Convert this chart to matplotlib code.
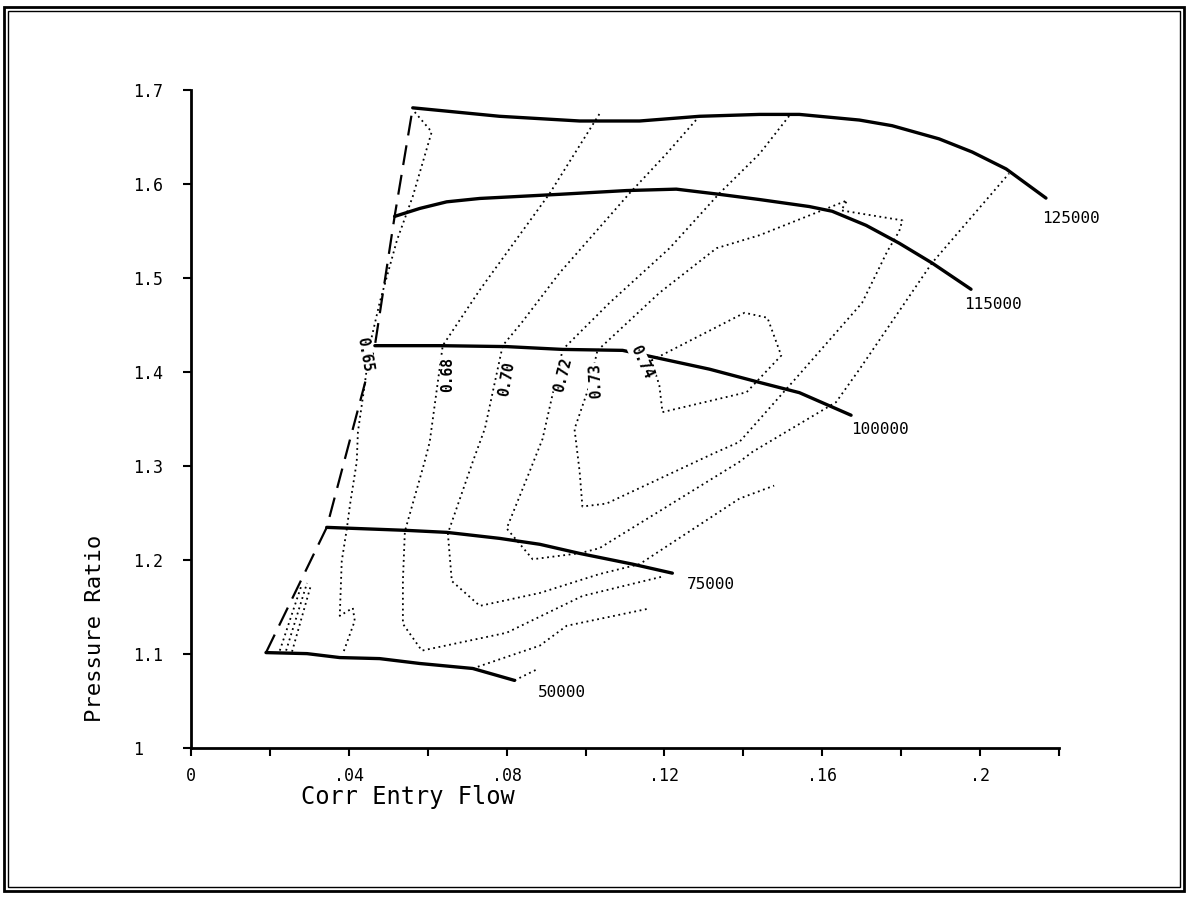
import matplotlib.pyplot as plt
from matplotlib.patches import Rectangle

plt.rcParams['font.family'] = ['DejaVu Sans Mono']

# constant speed lines (corr speed, rpm)
flow_125k = [0.0562, 0.0782, 0.0985, 0.1137, 0.1289, 0.1441, 0.1542, 0.1694, 0.1777, 0.1896, 0.1980, 0.2066, 0.2167]
pr_125k = [1.681, 1.672, 1.667, 1.667, 1.672, 1.674, 1.674, 1.668, 1.662, 1.648, 1.634, 1.616, 1.585]
flow_115k = [0.0516, 0.0580, 0.0648, 0.0732, 0.0934, 0.1104, 0.1230, 0.1339, 0.1440, 0.1567, 0.1625, 0.1711, 0.1795, 0.1878, 0.1977]
pr_115k = [1.5655, 1.574, 1.581, 1.5846, 1.589, 1.593, 1.5945, 1.589, 1.5835, 1.576, 1.571, 1.556, 1.537, 1.516, 1.488]
flow_100k = [0.0466, 0.0630, 0.0800, 0.0942, 0.1094, 0.1154, 0.1314, 0.1440, 0.1542, 0.1673]
pr_100k = [1.428, 1.428, 1.427, 1.424, 1.423, 1.4175, 1.403, 1.389, 1.378, 1.354]
flow_75k = [0.0344, 0.0547, 0.0648, 0.0782, 0.0884, 0.0985, 0.1119, 0.1220]
pr_75k = [1.2347, 1.2315, 1.2294, 1.223, 1.2167, 1.207, 1.1956, 1.186]
flow_50k = [0.0190, 0.0294, 0.0377, 0.0478, 0.0580, 0.0714, 0.0820]
pr_50k = [1.1015, 1.1004, 1.0962, 1.0951, 1.0899, 1.0846, 1.0719]

speed_names = ["125000", "115000", "100000", "75000", "50000"]
speed_lbl_x = [0.2157, 0.1959, 0.1673, 0.1258, 0.0878]
speed_lbl_y = [1.5634, 1.4715, 1.3383, 1.1744, 1.0592]

# surge line
surge_flow = [0.0190, 0.0344, 0.0466, 0.0516, 0.0562]
surge_pr = [1.1015, 1.2347, 1.428, 1.5655, 1.681]

# efficiency contours
eff_065_x = [0.0567, 0.0610, 0.0562, 0.0522, 0.0478, 0.0453, 0.0441, 0.0423, 0.0420, 0.0403, 0.0395, 0.0382, 0.0377, 0.0410, 0.0415, 0.0385]
eff_065_y = [1.6765, 1.6554, 1.5867, 1.5402, 1.4736, 1.4281, 1.389, 1.3362, 1.3044, 1.259, 1.2336, 1.1987, 1.1406, 1.149, 1.1353, 1.1004]
eff_068_x = [0.1035, 0.0909, 0.0732, 0.0638, 0.0605, 0.0592, 0.0542, 0.0537, 0.0537, 0.0585, 0.0800, 0.0992, 0.1200]
eff_068_y = [1.6744, 1.5899, 1.4873, 1.4281, 1.3256, 1.3044, 1.2304, 1.1776, 1.1321, 1.1036, 1.1226, 1.1617, 1.1829]
eff_070_x = [0.1289, 0.1205, 0.1111, 0.0934, 0.0838, 0.0790, 0.0745, 0.0714, 0.0651, 0.0661, 0.0732, 0.0884, 0.1035, 0.1137, 0.1390, 0.1478]
eff_070_y = [1.6723, 1.6321, 1.5899, 1.5053, 1.4524, 1.4281, 1.3400, 1.3044, 1.2283, 1.1776, 1.1512, 1.1649, 1.1850, 1.1956, 1.2653, 1.2791]
eff_072_x = [0.1516, 0.1441, 0.1339, 0.1213, 0.1061, 0.0942, 0.0891, 0.0858, 0.0800, 0.0866, 0.0985, 0.1035, 0.1390, 0.1423, 0.1635, 0.1694, 0.1878, 0.2073]
eff_072_y = [1.6723, 1.6321, 1.5899, 1.5317, 1.4736, 1.4239, 1.3288, 1.2939, 1.2336, 1.2008, 1.2072, 1.2125, 1.3044, 1.3150, 1.3679, 1.4027, 1.5159, 1.6110]
eff_073_x = [0.1030, 0.1187, 0.1332, 0.1441, 0.1663, 0.1648, 0.1803, 0.1795, 0.1765, 0.1701, 0.1542, 0.1390, 0.1322, 0.1053, 0.0992, 0.0985, 0.0972, 0.1010, 0.1030]
eff_073_y = [1.4228, 1.4841, 1.5317, 1.5455, 1.5825, 1.5719, 1.5613, 1.5497, 1.5285, 1.4736, 1.3975, 1.3256, 1.3129, 1.2600, 1.2569, 1.2939, 1.3393, 1.3858, 1.4228]
eff_074_x = [0.1167, 0.1403, 0.1461, 0.1496, 0.1408, 0.1195, 0.1187, 0.1167]
eff_074_y = [1.4123, 1.4630, 1.4577, 1.4175, 1.3784, 1.3573, 1.3858, 1.4123]
eff_low_a_x = [0.0714, 0.0884, 0.0952, 0.1157]
eff_low_a_y = [1.0846, 1.1089, 1.1300, 1.1480]
eff_low_b_x = [0.0820, 0.0876]
eff_low_b_y = [1.0719, 1.0835]
eff_s1_x = [0.0225, 0.0281]
eff_s1_y = [1.1036, 1.1744]
eff_s2_x = [0.0241, 0.0294]
eff_s2_y = [1.1036, 1.1755]
eff_s3_x = [0.0256, 0.0304]
eff_s3_y = [1.1025, 1.1734]

eff_names = ["0.65", "0.68", "0.70", "0.72", "0.73", "0.74"]
eff_lbl_x = [0.0441, 0.0651, 0.0800, 0.0942, 0.1025, 0.1142]
eff_lbl_y = [1.4186, 1.3975, 1.3922, 1.3964, 1.3910, 1.4102]
eff_lbl_rot = [-80, 90, 80, 76, 93, -65]

fig = plt.figure(figsize=(11.88, 8.97), dpi=100)
ax = fig.add_axes([0.1608, 0.1661, 0.7306, 0.7336])

dot = (0, (1, 2))
for xs, ys in [(eff_065_x, eff_065_y), (eff_068_x, eff_068_y), (eff_070_x, eff_070_y),
               (eff_072_x, eff_072_y), (eff_073_x, eff_073_y), (eff_074_x, eff_074_y),
               (eff_low_a_x, eff_low_a_y), (eff_low_b_x, eff_low_b_y),
               (eff_s1_x, eff_s1_y), (eff_s2_x, eff_s2_y), (eff_s3_x, eff_s3_y)]:
    ax.plot(xs, ys, color='black', lw=1.3, ls=dot, clip_on=False)

ax.plot(surge_flow, surge_pr, color='black', lw=1.6, ls=(0, (9, 4.5)), clip_on=False)

speeds = [(flow_125k, pr_125k), (flow_115k, pr_115k), (flow_100k, pr_100k),
          (flow_75k, pr_75k), (flow_50k, pr_50k)]
for (xs, ys), name, lx, ly in zip(speeds, speed_names, speed_lbl_x, speed_lbl_y):
    ax.plot(xs, ys, color='black', lw=2.4, clip_on=False, solid_capstyle='round')
    ax.text(lx, ly, name, fontsize=11.5, ha='left', va='center')

for name, lx, ly, rot in zip(eff_names, eff_lbl_x, eff_lbl_y, eff_lbl_rot):
    ax.text(lx, ly, name, fontsize=10.5, fontweight='bold', ha='center', va='center',
            rotation=rot, rotation_mode='anchor',
            bbox=dict(facecolor='white', edgecolor='none', pad=0.3))

ax.set_xlim(0, 0.22)
ax.set_ylim(1.0, 1.7)
ax.set_xticks([0.0, 0.02, 0.04, 0.06, 0.08, 0.10, 0.12, 0.14, 0.16, 0.18, 0.20, 0.22])
ax.set_xticklabels(['0', '', '.04', '', '.08', '', '.12', '', '.16', '', '.2', ''])
ax.set_yticks([1.0, 1.1, 1.2, 1.3, 1.4, 1.5, 1.6, 1.7])
ax.set_yticklabels(['1', '1.1', '1.2', '1.3', '1.4', '1.5', '1.6', '1.7'])
ax.tick_params(axis='x', direction='out', length=6, width=1.5, labelsize=12, pad=8)
ax.tick_params(axis='y', direction='out', length=6, width=1.5, labelsize=12, pad=36)
for lab in ax.get_yticklabels():
    lab.set_horizontalalignment('left')
for side in ['top', 'right']:
    ax.spines[side].set_visible(False)
for side in ['left', 'bottom']:
    ax.spines[side].set_linewidth(2)

fig.text(408 / 1188, 1 - 797 / 897, 'Corr Entry Flow', fontsize=17, ha='center', va='center')
fig.text(95 / 1188, 1 - 628 / 897, 'Pressure Ratio', fontsize=16, ha='center', va='center', rotation=90)

# scanned page frame
fig.patches.append(Rectangle((4 / 1188, 6 / 897), 1180 / 1188, 884 / 897, transform=fig.transFigure,
                             fill=False, lw=2, edgecolor='black'))
fig.patches.append(Rectangle((8 / 1188, 10 / 897), 1172 / 1188, 876 / 897, transform=fig.transFigure,
                             fill=False, lw=1, edgecolor='black'))

fig.savefig('out.png', dpi=100)
